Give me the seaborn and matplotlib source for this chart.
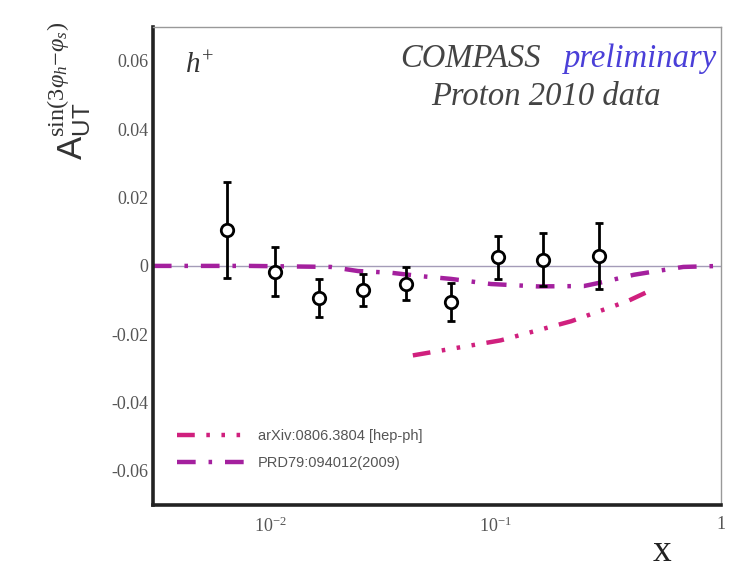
import matplotlib
matplotlib.use("Agg")
import matplotlib.pyplot as plt
import matplotlib.ticker as mticker
import numpy as np
import seaborn as sns

# COMPASS proton 2010, h+ : sin(3phi_h - phi_s) asymmetry vs x
x_data = [0.0064, 0.0105, 0.0164, 0.0256, 0.040, 0.0634, 0.102, 0.162, 0.287]
y_data = [0.0106, -0.0017, -0.0094, -0.0071, -0.0052, -0.0106, 0.0025, 0.0018, 0.0029]
y_err = [0.0140, 0.0072, 0.0055, 0.0046, 0.0048, 0.0055, 0.0063, 0.0078, 0.0096]

# model curves
arx_x = [0.0428, 0.105, 0.216, 0.385, 0.50]
arx_y = [-0.0262, -0.0218, -0.0162, -0.0103, -0.0068]
prd_x = [0.003, 0.008, 0.0185, 0.0244, 0.0342, 0.0464, 0.0631, 0.095,
         0.153, 0.246, 0.30, 0.41, 0.52, 0.68, 1.0]
prd_y = [0.0, 0.0, -0.0003, -0.0015, -0.002, -0.003, -0.0038, -0.0053,
         -0.006, -0.0059, -0.0047, -0.0026, -0.0015, -0.0003, 0.0]

arx_label = "arXiv:0806.3804 [hep-ph]"
prd_label = "PRD79:094012(2009)"
y_ticks = [-0.06, -0.04, -0.02, 0, 0.02, 0.04, 0.06]
y_ticklabels = ["-0.06", "-0.04", "-0.02", "0", "0.02", "0.04", "0.06"]

sns.set_style("white")
plt.rcParams["mathtext.fontset"] = "custom"
plt.rcParams["mathtext.rm"] = "Liberation Serif"
plt.rcParams["mathtext.it"] = "Liberation Serif:italic"
plt.rcParams["mathtext.sf"] = "Liberation Sans"
plt.rcParams["mathtext.fallback"] = "stix"

fig = plt.figure(figsize=(7.35, 5.7), dpi=100)
ax = fig.add_axes([0.208, 0.114, 0.773, 0.839])

# zero line
ax.axhline(0, color="#a49cb8", lw=1.0, zorder=1)

sns.lineplot(x=arx_x, y=arx_y, ax=ax, color="#d0207e", lw=3.2,
             label=arx_label, zorder=2)
ax.lines[-1].set_dashes((4.0, 2.6, 0.8, 2.6, 0.8, 2.6, 0.8, 2.6))
sns.lineplot(x=prd_x, y=prd_y, ax=ax, color="#a4209e", lw=3.2,
             label=prd_label, zorder=2)
ax.lines[-1].set_dashes((4.2, 2.9, 0.8, 2.9))

ax.errorbar(x_data, y_data, yerr=y_err, fmt="none", ecolor="black",
            elinewidth=2, capsize=3, capthick=2, zorder=3)
sns.scatterplot(x=x_data, y=y_data, ax=ax, marker="o", s=80,
                facecolor="white", edgecolor="black", linewidth=2, zorder=4)

ax.set_xscale("log")
ax.set_xlim(0.003, 1)
ax.set_ylim(-0.07, 0.07)
ax.set_yticks(y_ticks)
ax.set_yticklabels(y_ticklabels)
ax.yaxis.set_minor_locator(mticker.MultipleLocator(0.01))
ax.set_xticks([0.01, 0.1, 1])
ax.set_xticklabels([r"$10^{-2}$", r"$10^{-1}$", "1"])
ax.xaxis.set_minor_locator(mticker.LogLocator(base=10, subs=np.arange(2, 10)))
ax.xaxis.set_minor_formatter(mticker.NullFormatter())

ax.tick_params(axis="both", which="major", direction="in", length=11,
               width=1.8, color="#222222", labelsize=13, labelcolor="#555555")
ax.tick_params(axis="both", which="minor", direction="in", length=6,
               width=1.5, color="#222222")
for lab in ax.get_xticklabels() + ax.get_yticklabels():
    lab.set_family("Liberation Serif")
ax.tick_params(axis="x", pad=8)

for s in ["left", "bottom"]:
    ax.spines[s].set_linewidth(2.6)
    ax.spines[s].set_color("#222222")
for s in ["top", "right"]:
    ax.spines[s].set_linewidth(1.0)
    ax.spines[s].set_color("#999999")

ax.set_ylabel(r"$\mathsf{A}_{\mathsf{UT}}^{\mathrm{sin(3}\varphi_h\mathrm{-}\varphi_s\mathrm{)}}$",
              fontsize=25, color="#333333")
ax.yaxis.set_label_coords(-0.105, 0.865)
ax.set_xlabel("x", fontsize=27, family="Liberation Serif", color="#222222")
ax.xaxis.set_label_coords(0.896, -0.062)

ax.text(0.056, 0.92, r"$h^{+}$", transform=ax.transAxes, fontsize=21,
        color="#333333", va="center")
ax.text(0.435, 0.933, "COMPASS", transform=ax.transAxes, fontsize=23.5,
        family="Liberation Serif", style="italic", color="#444444", va="center")
ax.text(0.993, 0.933, "preliminary", transform=ax.transAxes, fontsize=23.5,
        family="Liberation Serif", style="italic", color="#4a3fd8",
        va="center", ha="right")
ax.text(0.692, 0.853, "Proton 2010 data", transform=ax.transAxes, fontsize=23.5,
        family="Liberation Serif", style="italic", color="#444444",
        va="center", ha="center")

leg = ax.legend(loc="lower left", bbox_to_anchor=(0.02, 0.045), frameon=False,
                handlelength=5.0, handletextpad=0.5, labelspacing=0.9,
                prop={"family": "Liberation Sans", "size": 10.5})
for t in leg.get_texts():
    t.set_color("#555555")

plt.savefig("out.png", dpi=100)
